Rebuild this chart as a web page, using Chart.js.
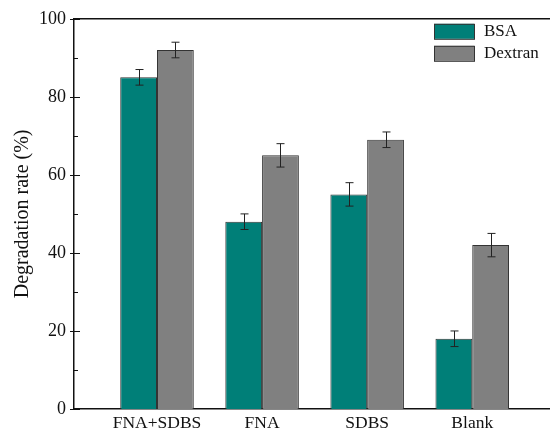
<!DOCTYPE html>
<html>
<head>
<meta charset="utf-8">
<script src="https://cdn.jsdelivr.net/npm/chart.js@4/dist/chart.umd.min.js"></script>
<style>
  html, body { margin: 0; padding: 0; background: #fff; }
  #wrap { width: 550px; height: 433px; }
</style>
</head>
<body>
<div id="wrap"><canvas id="myChart" width="550" height="433"></canvas></div>
<script>
// data
const categories = ['FNA+SDBS', 'FNA', 'SDBS', 'Blank'];
const bsa = [85, 48, 55, 18];
const bsaErr = [2, 2, 3, 2];
const dextran = [92, 65, 69, 42];
const dextranErr = [2, 3, 2, 3];
const yTicks = [0, 20, 40, 60, 80, 100];

const serif = "'Liberation Serif', 'Times New Roman', serif";

function points(vals) {
    return vals.map((v, i) => ({ x: i + 1, y: v }));
}

// error bars + frame + ticks + legend
const extras = {
    id: 'extras',
    afterDatasetsDraw(chart) {
        const ctx = chart.ctx;
        const y = chart.scales.y;
        const errs = [bsaErr, dextranErr];
        ctx.save();
        ctx.strokeStyle = '#222';
        ctx.lineWidth = 1;
        chart.data.datasets.forEach((ds, di) => {
            const meta = chart.getDatasetMeta(di);
            meta.data.forEach((bar, j) => {
                const v = ds.data[j].y;
                const e = errs[di][j];
                const top = y.getPixelForValue(v + e);
                const bot = y.getPixelForValue(v - e);
                const x = Math.round(bar.x) + 0.5;
                ctx.beginPath();
                ctx.moveTo(x, top); ctx.lineTo(x, bot);
                ctx.moveTo(x - 4, top); ctx.lineTo(x + 4, top);
                ctx.moveTo(x - 4, bot); ctx.lineTo(x + 4, bot);
                ctx.stroke();
            });
        });
        ctx.restore();
    },
    afterDraw(chart) {
        const ctx = chart.ctx;
        const area = chart.chartArea;
        const y = chart.scales.y;
        ctx.save();
        ctx.strokeStyle = '#111';
        ctx.lineWidth = 1.5;
        // top frame line
        ctx.beginPath();
        ctx.moveTo(area.left, area.top);
        ctx.lineTo(area.right, area.top);
        ctx.stroke();
        // y ticks: major cross the axis, minor inside
        ctx.lineWidth = 1;
        for (let v = 0; v <= 100; v += 10) {
            const py = Math.round(y.getPixelForValue(v)) + 0.5;
            const major = yTicks.includes(v);
            ctx.beginPath();
            ctx.moveTo(area.left - (major ? 4 : 0), py);
            ctx.lineTo(area.left + (major ? 6 : 4), py);
            ctx.stroke();
        }
        // legend
        ctx.font = '17px ' + serif;
        ctx.textBaseline = 'middle';
        ctx.textAlign = 'left';
        const bx = area.right - 116;
        chart.data.datasets.forEach((ds, i) => {
            const by = area.top + 5 + i * 22;
            ctx.fillStyle = ds.backgroundColor;
            ctx.fillRect(bx, by, 40, 15);
            ctx.strokeStyle = '#333';
            ctx.strokeRect(bx + 0.5, by + 0.5, 40, 15);
            ctx.fillStyle = '#111';
            ctx.fillText(ds.label, bx + 50, by + 8);
        });
        ctx.restore();
    }
};

new Chart(document.getElementById('myChart'), {
    type: 'bar',
    data: {
        datasets: [
            {
                label: 'BSA',
                data: points(bsa),
                backgroundColor: '#007f78',
                borderColor: '#333',
                borderWidth: 1,
                categoryPercentage: 0.7,
                barPercentage: 1.0
            },
            {
                label: 'Dextran',
                data: points(dextran),
                backgroundColor: '#808080',
                borderColor: '#333',
                borderWidth: 1,
                categoryPercentage: 0.7,
                barPercentage: 1.0
            }
        ]
    },
    options: {
        responsive: false,
        animation: false,
        layout: { padding: { top: 18, right: 0, left: 0, bottom: 0 } },
        plugins: {
            legend: { display: false },
            tooltip: { enabled: false }
        },
        scales: {
            x: {
                type: 'linear',
                offset: false,
                min: 0.21,
                max: 4.74,
                grid: { display: false, drawTicks: false },
                border: { display: true, color: '#111', width: 1.5 },
                afterBuildTicks: (scale) => {
                    scale.ticks = categories.map((c, i) => ({ value: i + 1 }));
                },
                afterFit: (scale) => { scale.height = 24; },
                ticks: {
                    color: '#111',
                    padding: 4,
                    maxRotation: 0,
                    autoSkip: false,
                    font: { family: serif, size: 17.5 },
                    callback: (v) => categories[v - 1] || ''
                }
            },
            y: {
                min: 0,
                max: 100,
                grid: { display: false, drawTicks: false },
                border: { display: true, color: '#111', width: 1.5 },
                afterBuildTicks: (scale) => {
                    scale.ticks = yTicks.map(v => ({ value: v }));
                },
                afterFit: (scale) => { scale.width = 74; },
                ticks: {
                    color: '#111',
                    padding: 8,
                    font: { family: serif, size: 18 }
                },
                title: {
                    display: true,
                    text: 'Degradation rate (%)',
                    color: '#111',
                    padding: { top: 11, bottom: 0 },
                    font: { family: serif, size: 20 }
                }
            }
        }
    },
    plugins: [extras]
});
</script>
</body>
</html>
